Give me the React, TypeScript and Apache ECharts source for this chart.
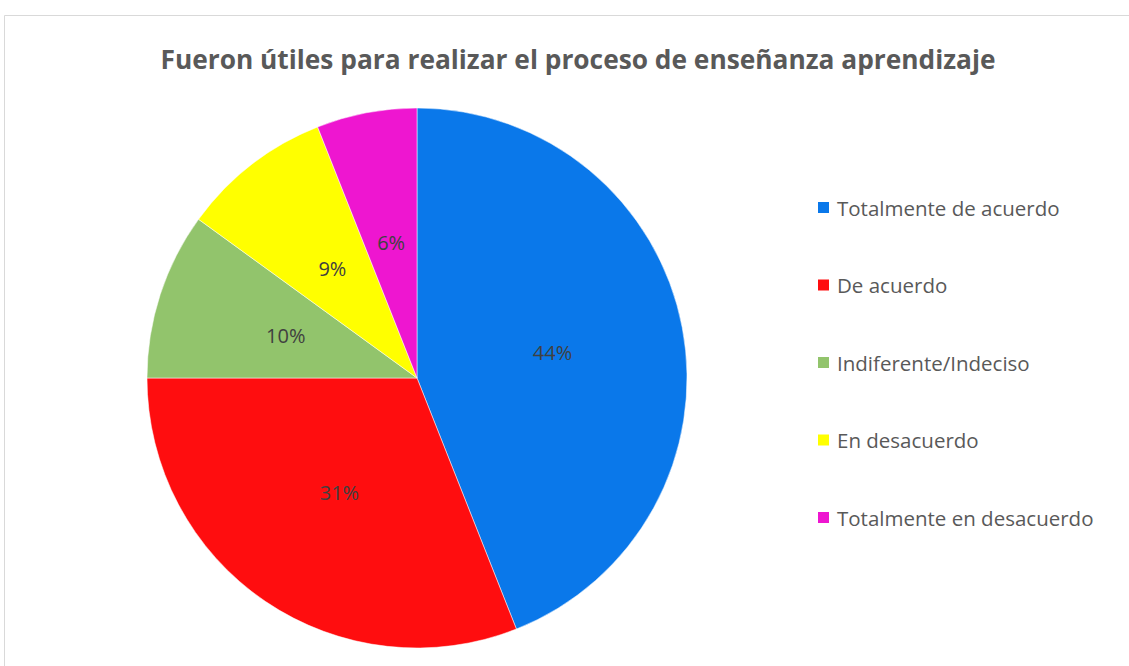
import React, { useEffect, useRef } from "react";
import * as echarts from "echarts";

const categories = [
  "Totalmente de acuerdo",
  "De acuerdo",
  "Indiferente/Indeciso",
  "En desacuerdo",
  "Totalmente en desacuerdo",
];
const values = [44, 31, 10, 9, 6];
const colors = ["#0A78EA", "#FF0D0F", "#92C46C", "#FFFF00", "#EE16D0"];
const titleText = "Fueron útiles para realizar el proceso de enseñanza aprendizaje";

export default function App() {
  const ref = useRef<HTMLDivElement>(null);
  useEffect(() => {
    if (!ref.current) return;
    const chart = echarts.init(ref.current, undefined, { renderer: "svg" });
    chart.setOption({
      animation: false,
      backgroundColor: "#ffffff",
      graphic: [
        {
          type: "rect",
          shape: { x: 4.5, y: 15.5, width: 1200, height: 700 },
          style: { fill: "none", stroke: "#d9d9d9", lineWidth: 1 },
          silent: true,
        },
      ],
      title: {
        text: titleText,
        left: 573,
        textAlign: "center",
        top: 41,
        textStyle: {
          fontFamily: "Open Sans",
          fontWeight: "bold",
          fontSize: 26.3,
          color: "#595959",
        },
      },
      legend: {
        orient: "vertical",
        left: 816,
        top: 197,
        padding: 0,
        itemWidth: 13,
        itemHeight: 13,
        itemGap: 56.5,
        icon: "rect",
        data: categories,
        textStyle: {
          fontFamily: "Open Sans",
          fontSize: 20.5,
          lineHeight: 20,
          color: "#595959",
          padding: [0, 0, 0, 2],
        },
      },
      series: [
        {
          type: "pie",
          center: [417, 378],
          radius: [0, 270],
          startAngle: 90,
          clockwise: true,
          color: colors,
          itemStyle: { borderColor: "#ffffff", borderWidth: 0.5 },
          label: {
            show: true,
            position: "inside",
            formatter: "{c}%",
            fontFamily: "Open Sans",
            fontSize: 20,
            color: "#404040",
          },
          labelLine: { show: false },
          data: categories.map((name, i) => ({ name, value: values[i] })),
        },
      ],
    });
    return () => chart.dispose();
  }, []);
  return (
    <div
      ref={ref}
      style={{ position: "fixed", left: 0, top: 0, width: 1129, height: 666 }}
    />
  );
}
